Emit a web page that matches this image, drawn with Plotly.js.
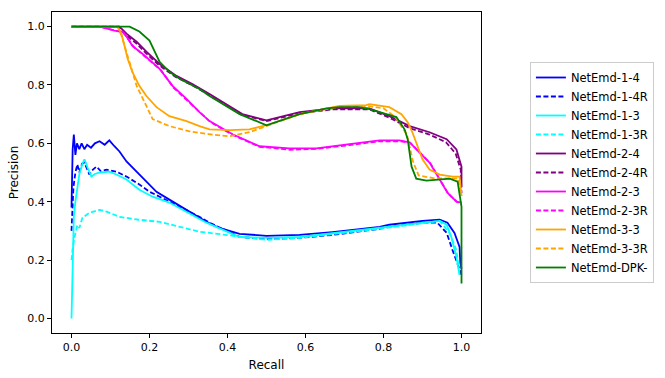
<!DOCTYPE html>
<html>
<head>
<meta charset="utf-8">
<script src="https://cdn.plot.ly/plotly-3.0.1.min.js"></script>
<style>html,body{margin:0;padding:0;background:#fff;}#chart{width:665px;height:378px;}</style>
</head>
<body>
<div id="chart"></div>
<script>
// NetEmd-1-4
const r14 = [0, 0.003, 0.006, 0.01, 0.014, 0.02, 0.026, 0.033, 0.04, 0.05, 0.06, 0.072, 0.085, 0.097, 0.11, 0.123, 0.141, 0.167, 0.192, 0.218, 0.251, 0.295, 0.328, 0.346, 0.379, 0.431, 0.5, 0.585, 0.669, 0.79, 0.815, 0.9, 0.944, 0.964, 0.982, 0.995, 0.997, 1.0];
const p14 = [0.38, 0.58, 0.63, 0.56, 0.60, 0.58, 0.60, 0.58, 0.595, 0.585, 0.60, 0.607, 0.595, 0.61, 0.59, 0.572, 0.538, 0.503, 0.469, 0.434, 0.407, 0.372, 0.345, 0.331, 0.31, 0.29, 0.283, 0.286, 0.296, 0.314, 0.321, 0.334, 0.338, 0.328, 0.293, 0.245, 0.19, 0.17];
// NetEmd-1-4R
const r14R = [0, 0.005, 0.01, 0.015, 0.02, 0.027, 0.033, 0.04, 0.046, 0.055, 0.064, 0.075, 0.09, 0.115, 0.141, 0.174, 0.2, 0.226, 0.277, 0.328, 0.354, 0.431, 0.5, 0.585, 0.669, 0.79, 0.815, 0.9, 0.938, 0.962, 0.977, 0.99, 1.0];
const p14R = [0.30, 0.45, 0.50, 0.528, 0.50, 0.53, 0.534, 0.51, 0.493, 0.51, 0.52, 0.505, 0.51, 0.503, 0.486, 0.459, 0.434, 0.417, 0.383, 0.348, 0.328, 0.279, 0.272, 0.276, 0.286, 0.307, 0.314, 0.328, 0.328, 0.293, 0.234, 0.19, 0.15];
// NetEmd-1-3
const r13 = [0, 0.003, 0.006, 0.01, 0.013, 0.02, 0.028, 0.033, 0.038, 0.041, 0.051, 0.06, 0.072, 0.097, 0.115, 0.141, 0.174, 0.208, 0.251, 0.295, 0.346, 0.431, 0.5, 0.585, 0.79, 0.944, 0.962, 0.974, 0.987, 0.995];
const p13 = [0.0, 0.25, 0.35, 0.40, 0.434, 0.493, 0.53, 0.545, 0.53, 0.517, 0.486, 0.495, 0.50, 0.503, 0.493, 0.476, 0.441, 0.417, 0.397, 0.366, 0.328, 0.279, 0.276, 0.279, 0.31, 0.334, 0.321, 0.279, 0.21, 0.148];
// NetEmd-1-3R
const r13R = [0, 0.003, 0.008, 0.015, 0.02, 0.028, 0.046, 0.072, 0.09, 0.123, 0.174, 0.226, 0.277, 0.328, 0.354, 0.431, 0.5, 0.585, 0.79, 0.944, 0.969, 0.987, 0.995];
const p13R = [0.20, 0.24, 0.28, 0.32, 0.31, 0.345, 0.362, 0.372, 0.366, 0.348, 0.338, 0.331, 0.314, 0.297, 0.293, 0.279, 0.269, 0.276, 0.307, 0.334, 0.293, 0.234, 0.148];
// NetEmd-2-4
const r24 = [0, 0.123, 0.141, 0.167, 0.192, 0.226, 0.269, 0.31, 0.354, 0.438, 0.5, 0.585, 0.669, 0.738, 0.764, 0.815, 0.867, 0.918, 0.962, 0.987, 1.0, 1.0];
const p24 = [1.0, 1.0, 0.976, 0.948, 0.914, 0.872, 0.831, 0.803, 0.769, 0.70, 0.679, 0.707, 0.72, 0.72, 0.72, 0.693, 0.659, 0.638, 0.614, 0.579, 0.52, 0.45];
// NetEmd-2-4R
const r24R = [0, 0.12, 0.138, 0.165, 0.19, 0.224, 0.266, 0.308, 0.352, 0.436, 0.5, 0.585, 0.669, 0.738, 0.764, 0.815, 0.867, 0.918, 0.96, 0.985, 0.998, 1.0];
const p24R = [1.0, 1.0, 0.972, 0.944, 0.91, 0.868, 0.828, 0.80, 0.766, 0.698, 0.676, 0.703, 0.716, 0.716, 0.716, 0.688, 0.652, 0.63, 0.604, 0.565, 0.51, 0.43];
// NetEmd-2-3
const r23 = [0, 0.072, 0.11, 0.131, 0.141, 0.156, 0.182, 0.226, 0.259, 0.295, 0.328, 0.354, 0.413, 0.482, 0.559, 0.628, 0.713, 0.79, 0.841, 0.867, 0.892, 0.918, 0.944, 0.964, 0.987, 1.0];
const p23 = [1.0, 1.0, 0.986, 0.983, 0.966, 0.934, 0.907, 0.855, 0.797, 0.752, 0.707, 0.676, 0.631, 0.59, 0.583, 0.583, 0.597, 0.61, 0.61, 0.603, 0.569, 0.534, 0.476, 0.431, 0.40, 0.397];
// NetEmd-2-3R
const r23R = [0, 0.075, 0.112, 0.133, 0.143, 0.16, 0.186, 0.23, 0.262, 0.298, 0.332, 0.357, 0.415, 0.482, 0.559, 0.628, 0.713, 0.79, 0.845, 0.87, 0.895, 0.921, 0.947, 0.967, 0.988, 1.0];
const p23R = [1.0, 1.0, 0.986, 0.98, 0.962, 0.93, 0.90, 0.85, 0.79, 0.745, 0.70, 0.672, 0.628, 0.588, 0.578, 0.581, 0.594, 0.607, 0.607, 0.60, 0.566, 0.53, 0.47, 0.426, 0.40, 0.39];
// NetEmd-3-3
const r33 = [0, 0.118, 0.128, 0.136, 0.144, 0.156, 0.174, 0.192, 0.218, 0.251, 0.295, 0.328, 0.354, 0.405, 0.456, 0.5, 0.585, 0.687, 0.756, 0.764, 0.815, 0.846, 0.862, 0.874, 0.887, 0.90, 0.918, 0.944, 0.977, 0.995, 1.0];
const p33 = [1.0, 1.0, 0.976, 0.934, 0.89, 0.845, 0.797, 0.762, 0.724, 0.693, 0.676, 0.659, 0.648, 0.645, 0.648, 0.662, 0.70, 0.728, 0.731, 0.734, 0.724, 0.70, 0.672, 0.638, 0.59, 0.545, 0.51, 0.493, 0.486, 0.486, 0.42];
// NetEmd-3-3R
const r33R = [0, 0.118, 0.128, 0.138, 0.146, 0.154, 0.167, 0.192, 0.208, 0.251, 0.303, 0.354, 0.405, 0.456, 0.5, 0.585, 0.687, 0.756, 0.80, 0.83, 0.86, 0.875, 0.89, 0.93, 0.99, 1.0];
const p33R = [1.0, 1.0, 0.97, 0.93, 0.89, 0.855, 0.797, 0.728, 0.683, 0.659, 0.641, 0.631, 0.624, 0.638, 0.659, 0.70, 0.726, 0.728, 0.72, 0.69, 0.63, 0.54, 0.49, 0.48, 0.48, 0.42];
// NetEmd-DPK-
const rDPK = [0, 0.149, 0.174, 0.20, 0.226, 0.251, 0.277, 0.328, 0.354, 0.431, 0.50, 0.585, 0.654, 0.687, 0.738, 0.764, 0.833, 0.854, 0.862, 0.872, 0.884, 0.91, 0.97, 0.99, 1.0, 1.0];
const pDPK = [1.0, 1.0, 0.983, 0.952, 0.879, 0.845, 0.821, 0.786, 0.762, 0.70, 0.662, 0.70, 0.72, 0.724, 0.724, 0.717, 0.69, 0.648, 0.614, 0.52, 0.479, 0.472, 0.479, 0.469, 0.383, 0.12];

const names = ['NetEmd-1-4','NetEmd-1-4R','NetEmd-1-3','NetEmd-1-3R','NetEmd-2-4','NetEmd-2-4R','NetEmd-2-3','NetEmd-2-3R','NetEmd-3-3','NetEmd-3-3R','NetEmd-DPK-'];
const xs = [r14, r14R, r13, r13R, r24, r24R, r23, r23R, r33, r33R, rDPK];
const ys = [p14, p14R, p13, p13R, p24, p24R, p23, p23R, p33, p33R, pDPK];
const colors = ['#0000ff','#0000ff','#00ffff','#00ffff','#800080','#800080','#ff00ff','#ff00ff','#ffa500','#ffa500','#008000'];
const dashes = ['solid','5px,2.5px','solid','5px,2.5px','solid','5px,2.5px','solid','5px,2.5px','solid','5px,2.5px','solid'];

const traces = names.map((n, i) => ({
  x: xs[i], y: ys[i], name: n, type: 'scatter', mode: 'lines',
  line: {color: colors[i], width: 1.8, dash: dashes[i]}
}));

const tickFont = {family: 'DejaVu Sans', size: 11, color: '#000'};
const titleFont = {family: 'DejaVu Sans', size: 12, color: '#000'};
const layout = {
  width: 665, height: 378,
  margin: {l: 52, r: 184, t: 12, b: 45, autoexpand: false},
  paper_bgcolor: '#fff', plot_bgcolor: '#fff',
  showlegend: true,
  legend: {
    x: 1.114, y: 0.5, xanchor: 'left', yanchor: 'middle',
    bordercolor: '#cccccc', borderwidth: 1, bgcolor: '#fff',
    font: {family: 'DejaVu Sans', size: 11.5, color: '#000'},
    itemwidth: 30, tracegroupgap: 0
  },
  xaxis: {
    range: [-0.05, 1.05], tickvals: [0, 0.2, 0.4, 0.6, 0.8, 1.0],
    ticktext: ['0.0','0.2','0.4','0.6','0.8','1.0'],
    showgrid: false, zeroline: false, showline: true, linecolor: '#000', linewidth: 1, mirror: true,
    ticks: 'outside', ticklen: 4, tickcolor: '#000', tickfont: tickFont,
    title: {text: 'Recall', font: titleFont, standoff: 7}
  },
  yaxis: {
    range: [-0.05, 1.05], tickvals: [0, 0.2, 0.4, 0.6, 0.8, 1.0],
    ticktext: ['0.0','0.2','0.4','0.6','0.8','1.0'],
    showgrid: false, zeroline: false, showline: true, linecolor: '#000', linewidth: 1, mirror: true,
    ticks: 'outside', ticklen: 4, tickcolor: '#000', tickfont: tickFont,
    title: {text: 'Precision', font: titleFont, standoff: 6}
  }
};
Plotly.newPlot('chart', traces, layout, {displayModeBar: false, staticPlot: true});
</script>
</body>
</html>
